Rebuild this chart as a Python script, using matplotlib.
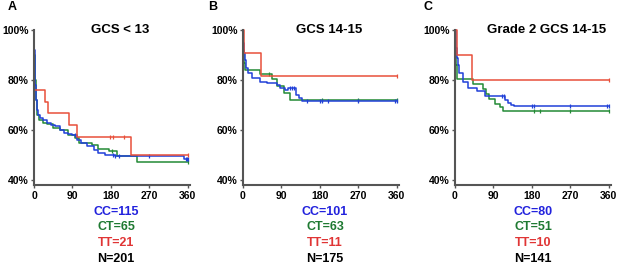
import numpy as np
import matplotlib
matplotlib.use("Agg")
import matplotlib.pyplot as plt

plt.rcParams['font.family'] = ['Liberation Sans', 'DejaVu Sans']
plt.rcParams['font.weight'] = 'bold'

# panel A : GCS < 13
a_cc_t = [0, 1, 2, 3, 5, 7, 10, 15, 22, 30, 40, 50, 60, 70, 80, 90, 100, 110, 125, 140, 150, 165, 190, 352]
a_cc_s = [100, 92, 85, 78, 72, 68, 66, 65, 64, 63, 62, 61.5, 60, 59, 58.5, 58, 56, 55, 53.5, 52, 51, 50, 49.7, 48.3]
a_cc_c = [95, 185, 190, 200, 270, 355, 358, 360]
a_ct_t = [0, 1, 3, 5, 8, 12, 20, 30, 45, 60, 80, 95, 105, 135, 150, 175, 195, 240]
a_ct_s = [100, 90, 80, 72, 66, 64, 63, 62.5, 61, 60, 58, 57, 55, 54, 52.5, 51.5, 49.5, 47.2]
a_ct_c = [182, 360]
a_tt_t = [0, 1, 26, 33, 82, 100, 226]
a_tt_s = [100, 76.2, 71.4, 66.7, 61.9, 57.1, 50.0]
a_tt_c = [178, 185, 211, 360]

# panel B : GCS 14-15
b_cc_t = [0, 1, 3, 5, 8, 12, 21, 40, 56, 80, 87, 99, 105, 123, 130, 138]
b_cc_s = [100, 95, 91, 88, 85, 83, 80.8, 79.3, 78.7, 78, 77, 76, 77, 74, 72.7, 71.6]
b_cc_c = [110, 115, 120, 150, 180, 185, 200, 270, 355, 360]
b_ct_t = [0, 1, 3, 5, 40, 68, 80, 95, 110]
b_ct_s = [100, 92, 87, 84, 82.5, 80.5, 77.8, 75, 72.2]
b_ct_c = [62, 185, 270, 360]
b_tt_t = [0, 3, 42]
b_tt_s = [100, 90.9, 81.8]
b_tt_c = [360]

# panel C : Grade 2 GCS 14-15
c_cc_t = [0, 2, 4, 6, 10, 19, 31, 51, 70, 117, 125, 130, 137]
c_cc_s = [100, 93, 89, 86, 82.7, 79.3, 77, 75.5, 73.5, 72, 71, 70, 69.5]
c_cc_c = [110, 115, 180, 186, 270, 355, 360]
c_ct_t = [0, 1, 3, 5, 43, 66, 73, 80, 93, 105, 112]
c_ct_s = [100, 92, 86, 80.4, 78.4, 76.5, 74.5, 72.5, 70.6, 69.3, 67.6]
c_ct_c = [185, 200, 270, 360]
c_tt_t = [0, 5, 39]
c_tt_s = [100, 90, 80]
c_tt_c = [360]

titles = ["GCS < 13", "GCS 14-15", "Grade 2 GCS 14-15"]
letters = ["A", "B", "C"]
counts = [[115, 65, 21, 201], [101, 63, 11, 175], [80, 51, 10, 141]]

blue = "#2140d8"
green = "#238a35"
red = "#e8503a"
text_cols = ["#2222dd", "#1f7a32", "#e03535", "black"]

panels = [
    [(a_cc_t, a_cc_s, a_cc_c), (a_ct_t, a_ct_s, a_ct_c), (a_tt_t, a_tt_s, a_tt_c)],
    [(b_cc_t, b_cc_s, b_cc_c), (b_ct_t, b_ct_s, b_ct_c), (b_tt_t, b_tt_s, b_tt_c)],
    [(c_cc_t, c_cc_s, c_cc_c), (c_ct_t, c_ct_s, c_ct_c), (c_tt_t, c_tt_s, c_tt_c)],
]


def step_value(t, s, x):
    # survival value of the step curve at each censor time
    idx = np.searchsorted(t, x, side='right') - 1
    return np.asarray(s)[idx]


W, H = 617, 265
fig = plt.figure(figsize=(W / 100, H / 100), dpi=100)

lefts = [34, 243, 455]
title_x = [0.55, 0.55, 0.59]
letter_x = [8, 208, 423]
text_x = [116, 325, 533]
cols = [blue, green, red]

for i in range(3):
    ax = fig.add_axes([lefts[i] / W, 1 - 185 / H, 156 / W, 155 / H])
    # green first, then blue, red on top
    for k in [1, 0, 2]:
        t, s, c = panels[i][k]
        tt = list(t) + [360]
        ss = list(s) + [s[-1]]
        ax.step(tt, ss, where='post', color=cols[k], lw=1.1, clip_on=False)
        ax.plot(c, step_value(t, s, c), ls='none', marker='|', ms=3,
                mew=0.9, color=cols[k], clip_on=False)

    ax.set_xlim(0, 365)
    ax.set_ylim(38, 100)
    ax.set_xticks([0, 90, 180, 270, 360])
    ax.set_yticks([40, 60, 80, 100])
    ax.set_yticklabels([f"{v}%" for v in [40, 60, 80, 100]])
    for sp in ['top', 'right']:
        ax.spines[sp].set_visible(False)
    for sp in ['left', 'bottom']:
        ax.spines[sp].set_color('#555555')
        ax.spines[sp].set_linewidth(1.5)
    ax.tick_params(length=2.5, width=1, color='#555555', labelsize=7.5, pad=1.5)
    for lab in ax.get_xticklabels() + ax.get_yticklabels():
        lab.set_fontweight('bold')

    ax.text(title_x[i], 1.0, titles[i], transform=ax.transAxes, ha='center',
            va='center', fontsize=9.5, fontweight='bold')
    fig.text(letter_x[i] / W, 1 - 7 / H, letters[i], ha='left', va='center',
             fontsize=9, fontweight='bold')

    labels = [f"CC={counts[i][0]}", f"CT={counts[i][1]}",
              f"TT={counts[i][2]}", f"N={counts[i][3]}"]
    for j, (lab, ty) in enumerate(zip(labels, [212, 227.5, 243.5, 259.5])):
        fig.text(text_x[i] / W, 1 - ty / H, lab, ha='center', va='center',
                 fontsize=9, fontweight='bold', color=text_cols[j])

fig.savefig("out.png", dpi=100)
